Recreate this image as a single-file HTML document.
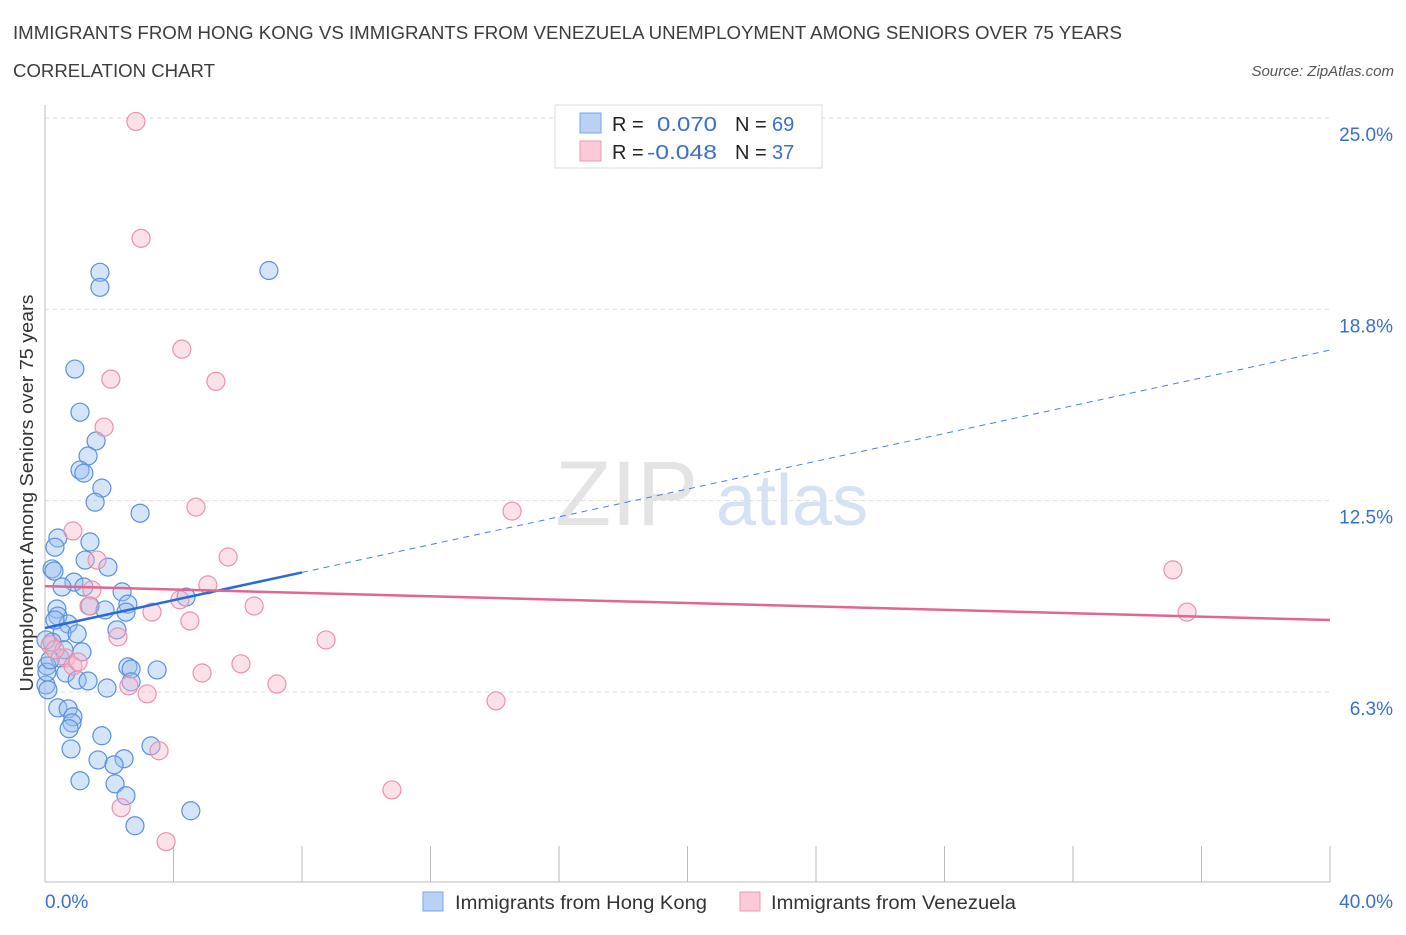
<!DOCTYPE html>
<html><head><meta charset="utf-8"><style>
body{margin:0;background:#fff;font-family:"Liberation Sans",sans-serif;}
svg text{font-family:"Liberation Sans",sans-serif;}
</style></head><body>
<svg id="chart" width="1406" height="930" xmlns="http://www.w3.org/2000/svg">
<text x="13" y="39" font-size="18" fill="#3c3c3c" textLength="1109" lengthAdjust="spacingAndGlyphs">IMMIGRANTS FROM HONG KONG VS IMMIGRANTS FROM VENEZUELA UNEMPLOYMENT AMONG SENIORS OVER 75 YEARS</text>
<text x="13" y="77" font-size="18" fill="#3c3c3c" textLength="202" lengthAdjust="spacingAndGlyphs">CORRELATION CHART</text>
<text x="1394" y="76" font-size="15" fill="#555" text-anchor="end" font-style="italic">Source: ZipAtlas.com</text>
<text x="555" y="525" font-size="92" fill="#e4e4e4" font-family="Liberation Serif">ZIP</text>
<text x="716" y="525" font-size="72" fill="#d5e2f3">atlas</text>
<g id="grid"></g>
<g id="axes"></g>
<g id="pts"></g>
<g id="trends"></g>
<text transform="translate(33,493) rotate(-90)" font-size="18" fill="#333" text-anchor="middle" textLength="397" lengthAdjust="spacingAndGlyphs">Unemployment Among Seniors over 75 years</text>
<text x="45" y="908" font-size="19" fill="#3a6fd0">0.0%</text>
<text x="1393" y="908" font-size="19" fill="#3a6fd0" text-anchor="end">40.0%</text>
<g>
<rect x="555" y="105" width="267" height="63" fill="#fff" stroke="#ddd"/>
<rect x="580" y="113" width="21" height="20" fill="#b8d1f5" stroke="#7aa6e6"/>
<rect x="580" y="141" width="21" height="20" fill="#fbc9d7" stroke="#ec9ab2"/>
<text x="612" y="131" font-size="20" fill="#222">R =</text>
<text x="657" y="131" font-size="20" fill="#3a6fd0" textLength="60" lengthAdjust="spacingAndGlyphs">0.070</text>
<text x="735" y="131" font-size="20" fill="#222">N =</text>
<text x="772" y="131" font-size="20" fill="#3a6fd0">69</text>
<text x="612" y="159" font-size="20" fill="#222">R =</text>
<text x="647" y="159" font-size="20" fill="#3a6fd0" textLength="70" lengthAdjust="spacingAndGlyphs">-0.048</text>
<text x="735" y="159" font-size="20" fill="#222">N =</text>
<text x="772" y="159" font-size="20" fill="#3a6fd0">37</text>
</g>
<g>
<rect x="423" y="892" width="20" height="19" fill="#b8d1f5" stroke="#7aa6e6"/>
<text x="455" y="909" font-size="19" fill="#333" textLength="252" lengthAdjust="spacingAndGlyphs">Immigrants from Hong Kong</text>
<rect x="740" y="892" width="20" height="19" fill="#fbc9d7" stroke="#ec9ab2"/>
<text x="771" y="909" font-size="19" fill="#333" textLength="245" lengthAdjust="spacingAndGlyphs">Immigrants from Venezuela</text>
</g>
</svg>
<script>
const yTicks=[6.25,12.5,18.75,25];
const yTickLabels=["6.3%","12.5%","18.8%","25.0%"];
const xTicks=[0,4,8,12,16,20,24,28,32,36,40];
const hkX=[1.71,1.71,6.97,0.93,1.09,1.59,1.34,1.09,1.21,1.77,1.56,2.96,0.40,0.31,1.40,0.22,0.28,1.25,1.96,0.90,0.53,1.21,2.40,0.37,0.40,1.40,1.87,2.58,2.52,4.39,0.72,0.53,1.00,2.24,0.22,1.15,0.47,0.06,2.58,2.68,3.49,0.65,1.00,1.34,0.03,0.06,1.93,2.68,0.40,0.72,0.87,0.84,0.75,0.81,1.77,3.30,1.65,2.46,2.15,1.09,2.18,2.52,2.80,4.54,0.03,0.16,0.31,0.59,0.09];
const hkY=[19.96,19.47,20.02,16.80,15.39,14.45,13.96,13.50,13.40,12.91,12.45,12.09,11.28,10.98,11.15,10.27,10.20,10.56,10.33,9.84,9.68,9.68,9.52,8.96,8.73,9.06,8.93,9.12,8.86,9.35,8.47,8.18,8.15,8.28,7.88,7.56,7.36,7.10,7.07,7.00,6.97,6.87,6.64,6.61,6.48,6.90,6.38,6.58,5.73,5.70,5.44,5.24,5.05,4.39,4.82,4.49,4.03,4.07,3.87,3.35,3.25,2.86,1.88,2.37,7.95,7.30,8.60,7.63,6.32];
const veX=[2.83,2.99,4.26,2.05,5.32,1.84,4.70,14.54,0.87,5.70,1.62,5.07,1.46,35.11,4.20,1.37,6.51,3.33,35.55,4.51,2.27,8.75,0.16,0.65,0.87,1.03,6.10,4.89,2.61,7.22,3.18,14.04,3.55,2.37,10.80,3.77,0.31];
const veY=[24.89,21.07,17.45,16.47,16.40,14.90,12.29,12.16,11.51,10.66,10.56,9.75,9.58,10.24,9.26,9.06,9.06,8.86,8.86,8.57,8.05,7.95,7.79,7.36,7.10,7.23,7.17,6.87,6.45,6.51,6.19,5.96,4.33,2.47,3.05,1.36,7.63];
const hkTrend=[8.34,17.42];
const veTrend=[9.71,8.60];
const hkSolidEnd=8;
const NS="http://www.w3.org/2000/svg";
const xs=v=>45+v*32.125;
const ys=v=>883.3-v*30.61;
function mk(tag,attrs,parent){const e=document.createElementNS(NS,tag);for(const k in attrs)e.setAttribute(k,attrs[k]);parent.appendChild(e);return e;}
const grid=document.getElementById('grid'),axes=document.getElementById('axes'),pts=document.getElementById('pts'),tr=document.getElementById('trends');
yTicks.forEach((t,i)=>{
 const l=mk('line',{x1:45,x2:1330,y1:ys(t),y2:ys(t),stroke:'#ddd','stroke-dasharray':'4,4'},grid);
 
 
 const tx=mk('text',{x:1393,y:ys(t)+23,'font-size':19,fill:'#3a6fd0','text-anchor':'end'},grid);
 tx.textContent=yTickLabels[i];
 
 
});
const ax=mk('line',{x1:45,x2:1330,y1:882,y2:882,stroke:'#bbb'},axes);


const ay=mk('line',{x1:45,x2:45,y1:105,y2:882,stroke:'#bbb'},axes);


xTicks.forEach(t=>{
 const l=mk('line',{x1:xs(t),x2:xs(t),y1:846,y2:882,stroke:'#bbb'},axes);
 
 
});
hkX.forEach((v,i)=>{
 const c=mk('circle',{cx:xs(v),cy:ys(hkY[i]),r:9,fill:'rgba(150,190,240,0.4)',stroke:'#5a90dd','stroke-width':1.2},pts);
 
 
});
veX.forEach((v,i)=>{
 const c=mk('circle',{cx:xs(v),cy:ys(veY[i]),r:9,fill:'rgba(248,180,200,0.4)',stroke:'#ea92ad','stroke-width':1.2},pts);
 
 
});
const hy=x=>hkTrend[0]+(hkTrend[1]-hkTrend[0])*x/40;
const t1=mk('line',{x1:xs(0),y1:ys(hy(0)),x2:xs(hkSolidEnd),y2:ys(hy(hkSolidEnd)),stroke:'#2a6ad6','stroke-width':2.5},tr);


const t2=mk('line',{x1:xs(hkSolidEnd),y1:ys(hy(hkSolidEnd)),x2:xs(40),y2:ys(hy(40)),stroke:'#4a82dd','stroke-width':1,'stroke-dasharray':'6,5'},tr);


const t3=mk('line',{x1:xs(0),y1:ys(veTrend[0]),x2:xs(40),y2:ys(veTrend[1]),stroke:'#e2668f','stroke-width':2.5},tr);


</script>
</body></html>
